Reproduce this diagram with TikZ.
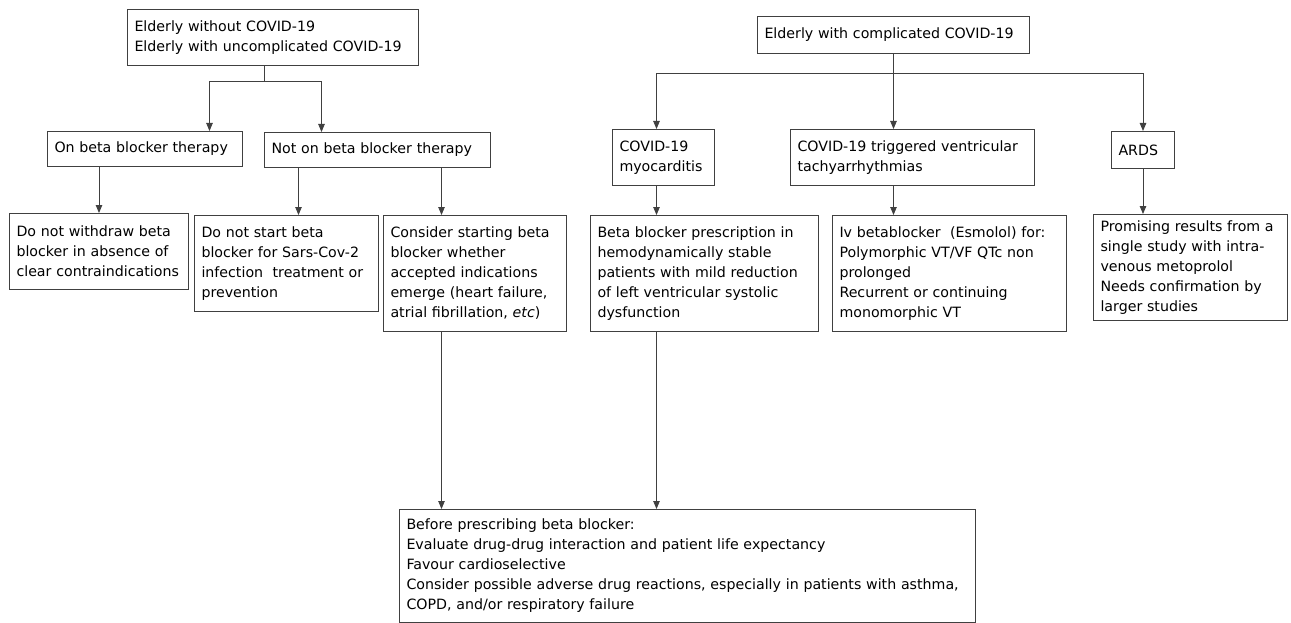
\documentclass[tikz,border=0pt]{standalone}
\usepackage{fontspec}
\setmainfont{DejaVu Sans}
\usepackage{tikz}
\usetikzlibrary{positioning, arrows.meta}
\tikzstyle{process} = [rectangle, draw=black!75, line width=1pt, anchor=north west, inner xsep=7pt, inner ysep=0pt, align=left, font=\fontsize{14.2}{20}\selectfont]
\tikzstyle{arrow} = [line width=0.9pt, draw=black!75, -{Triangle[length=8pt,width=6.5pt]}]
\tikzstyle{line} = [line width=0.9pt, draw=black!75]

\begin{document}
\begin{tikzpicture}[x=1pt, y=-1pt]
		\useasboundingbox (0,0) rectangle (1291,623);
		%left branch
		\node (start1) [process, text width=277pt, minimum height=56pt] at (127,9) {Elderly without COVID-19\\Elderly with uncomplicated COVID-19};
		\node (pro1) [process, text width=181pt, minimum height=35pt] at (47,131) {On beta blocker therapy};
		\node (pro2) [process, text width=212pt, minimum height=35pt] at (264,132) {Not on beta blocker therapy};
		\node (res1) [process, text width=165pt, minimum height=76pt] at (9,213) {Do not withdraw beta\\blocker in absence of\\clear contraindications};
		\node (res2) [process, text width=170pt, minimum height=96pt] at (194,215) {Do not start beta\\blocker for Sars-Cov-2\\infection\ \ treatment or\\prevention};
		\node (res3) [process, text width=169pt, minimum height=116pt] at (383,215) {Consider starting beta\\blocker whether\\accepted indications\\emerge (heart failure,\\atrial fibrillation, \textit{etc})};
		
		%right branch
		\node (start2) [process, text width=258pt, minimum height=37pt] at (757,16) {Elderly with complicated COVID-19};
		\node (pro3) [process, text width=88pt, minimum height=56pt] at (612,129) {COVID-19\\myocarditis};
		\node (pro4) [process, text width=230pt, minimum height=56pt] at (790,129) {COVID-19 triggered ventricular\\tachyarrhythmias};
		\node (pro5) [process, text width=49pt, minimum height=37pt] at (1111,131) {ARDS};
		\node (res4) [process, text width=214pt, minimum height=116pt] at (590,215) {Beta blocker prescription in\\hemodynamically stable\\patients with mild reduction\\of left ventricular systolic\\dysfunction};
		\node (res5) [process, text width=220pt, minimum height=116pt] at (832,215) {Iv betablocker\ \ (Esmolol) for:\\Polymorphic VT/VF QTc non\\prolonged\\Recurrent or continuing\\monomorphic VT};
		\node (res6) [process, text width=180pt, minimum height=106pt] at (1093,214) {Promising results from a\\single study with intra-\\venous metoprolol\\Needs confirmation by\\larger studies};
		
		\node (stop1) [process, text width=562pt, minimum height=113pt] at (399,509) {Before prescribing beta blocker:\\Evaluate drug-drug interaction and patient life expectancy\\Favour cardioselective\\Consider possible adverse drug reactions, especially in patients with asthma,\\COPD, and/or respiratory failure};
		
		%connectors
		\coordinate (split1) at (264,81);
		\coordinate (split2) at (start2.south |- 0,73);
		\draw [line](start1.south -| split1) -- (split1);
		\draw [arrow](split1) -| ([xshift=64.5pt]pro1.north);
		\draw [arrow](split1) -| ([xshift=-56pt]pro2.north);
		\draw [arrow](pro1.south -| res1.north) -- (res1.north);
		\draw [arrow]([xshift=-79pt]pro2.south) -- ([xshift=-79pt]pro2.south |- res2.north);
		\draw [arrow]([xshift=64pt]pro2.south) -- ([xshift=64pt]pro2.south |- res3.north);
		\draw [arrow]([xshift=-33.5pt]res3.south) -- ([xshift=-33.5pt]res3.south |- stop1.north);
		
		\draw [line](start2.south) -- (split2);
		\draw [arrow](split2) -| ([xshift=-7pt]pro3.north);
		\draw [arrow](split2) -- (split2 |- pro4.north);
		\draw [arrow](split2) -| (pro5.north);
		\draw [arrow]([xshift=-7pt]pro3.south) -- ([xshift=-7pt]pro3.south |- res4.north);
		\draw [arrow](pro4.south -| split2) -- (res5.north -| split2);
		\draw [arrow](pro5.south) -- (pro5.south |- res6.north);
		\draw [arrow]([xshift=-48pt]res4.south) -- ([xshift=-48pt]res4.south |- stop1.north);
		
	\end{tikzpicture}
\end{document}
